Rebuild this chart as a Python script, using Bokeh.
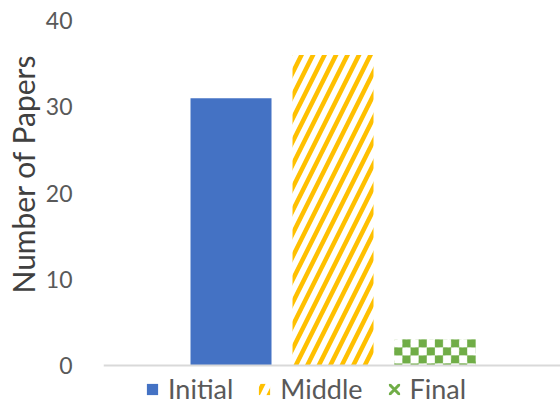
import numpy as np
from bokeh.plotting import figure
from bokeh.models import Range1d, Legend, LegendItem, FixedTicker, Title
from bokeh.embed import file_html
from bokeh.resources import INLINE

# ---- data ----
series = ["Initial", "Middle", "Final"]
papers = [31, 36, 3]
y_ticks = [0, 10, 20, 30, 40]
y_label = "Number of Papers"

# ---- styles ----
BLUE, GOLD, GREEN = "#4472C4", "#FFC000", "#70AD47"
FONT = "Lato"
BAR_W = 0.794
X_UNIT_PX = 102.0           # px per category step
FRAME_H = 385.0             # px, frame from y=20 to y=405
ZERO_FROM_BOTTOM = 40.0     # px, data zero above frame bottom
CELL_PX = 8.0               # checker cell size in px

styles = [
    dict(fill_color=BLUE, line_color=None),
    dict(fill_color="white", line_color=None, hatch_pattern="/", hatch_color=GOLD,
         hatch_scale=23, hatch_weight=4.5),
    dict(fill_color="white", line_color=None, hatch_pattern="x", hatch_color=GREEN,
         hatch_scale=14, hatch_weight=3),
]

ymax = y_ticks[-1]
ymin = -ymax * ZERO_FROM_BOTTOM / (FRAME_H - ZERO_FROM_BOTTOM)
px_per_unit_y = (FRAME_H - ZERO_FROM_BOTTOM) / ymax

p = figure(width=560, height=405, output_backend="svg", toolbar_location=None,
           x_range=Range1d(-1.25, 3.23), y_range=Range1d(ymin, ymax),
           min_border_left=103, min_border_right=0, min_border_top=20,
           min_border_bottom=0)
p.outline_line_color = None
p.grid.visible = False

items = []
for i, (name, val) in enumerate(zip(series, papers)):
    r = p.vbar(x=[i], top=[val], width=BAR_W, bottom=0, **styles[i])
    items.append(LegendItem(label=name, renderers=[r]))

# checkerboard fill for the "Final" bar, derived from its value
fi = series.index("Final")
fval = papers[fi]
cw = BAR_W / round(BAR_W * X_UNIT_PX / CELL_PX)
ch = CELL_PX / px_per_unit_y
ncol = int(round(BAR_W / cw))
nrow = int(np.ceil(fval / ch))
L, R, B, T, C = [], [], [], [], []
x0 = fi - BAR_W / 2
for rr in range(nrow):
    top = fval - rr * ch
    bot = max(0.0, fval - (rr + 1) * ch)
    for cc in range(ncol):
        L.append(x0 + cc * cw)
        R.append(x0 + (cc + 1) * cw)
        B.append(bot)
        T.append(top)
        C.append(GREEN if (rr + cc) % 2 == 1 else "white")
p.quad(left=L, right=R, bottom=B, top=T, fill_color=C, line_color=C, line_width=0.3)

p.yaxis.ticker = FixedTicker(ticks=y_ticks)
p.yaxis.major_label_text_font = FONT
p.yaxis.major_label_text_font_size = "23px"
p.yaxis.major_label_text_color = "#595959"
p.yaxis.axis_line_color = None
p.yaxis.major_tick_line_color = None
p.yaxis.minor_tick_line_color = None
p.yaxis.major_label_standoff = 25

title = Title(text=y_label, align="left", offset=112, text_font=FONT,
              text_font_size="30px", text_font_style="normal",
              text_color="#404040", standoff=3)
p.add_layout(title, "left")

p.xaxis.fixed_location = 0
p.xaxis.major_label_text_font_size = "0px"
p.xaxis.major_tick_line_color = None
p.xaxis.minor_tick_line_color = None
p.xaxis.axis_line_color = "#D9D9D9"
p.xaxis.axis_line_width = 2

legend = Legend(items=items, orientation="horizontal", location=(42, 0),
                border_line_color=None, background_fill_alpha=0,
                label_text_font=FONT, label_text_font_size="27px",
                label_text_color="#595959", glyph_width=14, glyph_height=14,
                label_standoff=9, spacing=24, padding=0, margin=0)
p.add_layout(legend, "center")

open("out.html", "w").write(file_html(p, INLINE))
